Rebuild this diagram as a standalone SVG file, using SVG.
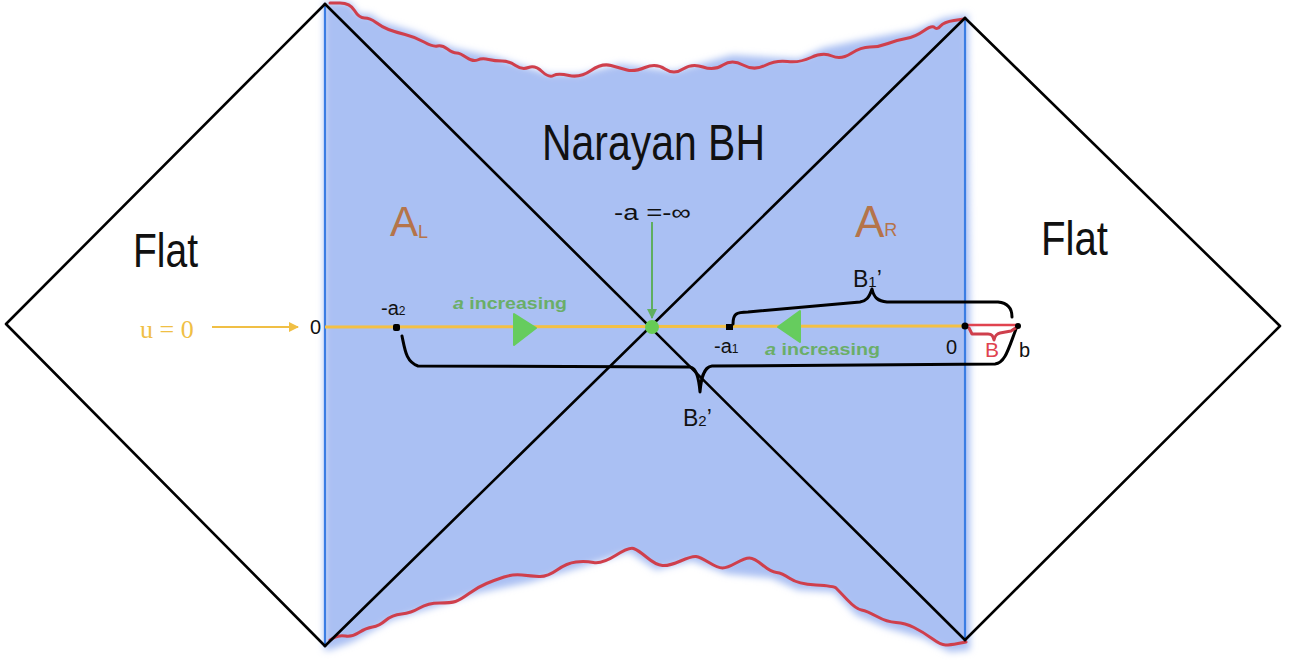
<svg xmlns="http://www.w3.org/2000/svg" width="1295" height="664" viewBox="0 0 1295 664">
<style>
.blk{stroke:#000;stroke-width:2.6;fill:none;stroke-linecap:round;stroke-linejoin:round}
.brace{stroke:#000;stroke-width:3;fill:none;stroke-linecap:round;stroke-linejoin:round}
.red{stroke:#cf3f4c;stroke-width:3;fill:none;stroke-linecap:round;stroke-linejoin:round}
.bl{stroke:#3b7de3;stroke-width:2.2}
.hand{font-family:"Liberation Sans","DejaVu Sans",sans-serif;fill:#111}
.lab{font-family:"Liberation Sans",Arial,sans-serif;fill:#111}
.brown{font-family:"Liberation Sans",Arial,sans-serif;fill:#b5744a}
.grn{font-family:"Liberation Sans",Arial,sans-serif;fill:#6aae68;font-weight:bold}
</style>
<defs>
<filter id="blur" x="-5%" y="-5%" width="110%" height="110%"><feGaussianBlur stdDeviation="3.5"/></filter>
<marker id="ya" viewBox="0 0 10 10" refX="9" refY="5" markerWidth="5" markerHeight="5" orient="auto"><path d="M0,0 L10,5 L0,10 z" fill="#f0bf45"/></marker>
<marker id="ga" viewBox="0 0 10 10" refX="9" refY="5" markerWidth="5" markerHeight="5" orient="auto"><path d="M0,0 L10,5 L0,10 z" fill="#5fae5f"/></marker>
</defs>
<rect width="1295" height="664" fill="#fff"/>
<g id="bulk">
<path filter="url(#blur)" fill="#aac0f3" d="M324,2 L350,2 L359,14 L370,14 L382,22 L415,32 L453,48 L495,57 L549,74 L580,74 L620,64 L674,71 L732,55 L799,59 L823,48 L861,40 L915,30 L944,18 L968,14 L970,300 L970,650 L950,652 L923,638 L887,628 L856,615 L834,592 L798,590 L771,578 L727,574 L692,561 L656,570 L629,552 L585,566 L531,582 L478,593 L428,609 L392,620 L352,642 L330,650 L324,650 Z"/>
</g>
<g id="connectors">
<line class="bl" x1="325" y1="4" x2="325" y2="646"/>
<line class="bl" x1="965" y1="18" x2="965" y2="640"/>
<path class="red" d="M330,3 L340,3 Q350,3 354.5,10.5 Q359,18 364.5,18 Q370,18 376,22.5 Q382,27 388.5,29.5 Q395,32 405,34.5 Q415,37 424,42 Q433,47 437.5,46 Q442,45 447.5,49 Q453,53 456.5,53 Q460,53 466.5,57.5 Q473,62 477.5,60 Q482,58 488.5,59.5 Q495,61 502,61 Q509,61 515.5,65.5 Q522,70 528.5,67.5 Q535,65 542,71.5 Q549,78 553.5,75.5 Q558,73 569,75.5 Q580,78 591,70.5 Q602,63 611,65.5 Q620,68 627,70 Q634,72 645,67.5 Q656,63 665,69 Q674,75 683,69 Q692,63 703,67 Q714,71 723,65 Q732,59 743,65 Q754,71 765,65.5 Q776,60 787.5,61.5 Q799,63 811,57.5 Q823,52 832,56 Q841,60 851,53.5 Q861,47 870,47 Q879,47 888,43.5 Q897,40 906,38.5 Q915,37 923.5,31 Q932,25 934.5,27.5 Q937,30 940.5,26 Q944,22 954,20.5 L964,19"/>
<path class="red" d="M330,640 L334.5,637.5 Q339,635 345.5,636 Q352,637 359,632.5 Q366,628 372.5,627 Q379,626 385.5,620.5 Q392,615 401.5,614 Q411,613 419.5,608 Q428,603 439.5,603 Q451,603 455.5,601.5 Q460,600 469,593.5 Q478,587 486.5,583.5 Q495,580 504,577 Q513,574 522,575 Q531,576 539,576.5 Q547,577 557,570 Q567,563 576,562 Q585,561 593.5,562.5 Q602,564 615.5,555.5 Q629,547 633.5,548.5 Q638,550 647,557.5 Q656,565 662.5,565.5 Q669,566 680.5,561 Q692,556 696,556.5 Q700,557 709,562.5 Q718,568 722.5,568 Q727,568 736,563 Q745,558 749.5,558 Q754,558 762.5,565 Q771,572 776.5,572.5 Q782,573 790,578.5 Q798,584 816,585 Q834,586 836,588 Q838,590 847,599.5 Q856,609 861.5,610 Q867,611 877,616.5 Q887,622 896,622.5 Q905,623 914,627.5 Q923,632 932,638.5 Q941,645 945.5,645 Q950,645 958,643.5 L966,642"/>
<path class="blk" d="M325,4 L6,324 L325,646"/>
<path class="blk" d="M325,4 L965,640"/>
<path class="blk" d="M325,646 L965,18"/>
<path class="blk" d="M965,18 L1280,326 L965,640"/>
<line x1="325" y1="327" x2="965" y2="326" stroke="#f3c044" stroke-width="3"/>
<line x1="212" y1="327" x2="298" y2="327" stroke="#f0bf45" stroke-width="2" marker-end="url(#ya)"/>
<line x1="652" y1="222" x2="652" y2="318" stroke="#5fae5f" stroke-width="2" marker-end="url(#ga)"/>
<path class="brace" d="M402,336 C405,350 406,362 418,366 L690,367 C697,368 699,380 700,392 C701,380 703,367 712,366 L995,364 C1005,363 1008,350 1016,329"/>
<path class="brace" d="M733,324 C733,314 736,312 748,312 L860,302 C866,301 869,298 872,289 C874,298 878,301 887,302 L998,302 C1008,303 1012,308 1012,317"/>
<line x1="967" y1="325" x2="1018" y2="325" stroke="#e0434f" stroke-width="2.5"/>
<path class="red" stroke-width="2.2" d="M969,328 L972,334 L988,334 C992,334 993,336 994,340 C995,336 996,334 1000,333 L1011,331 L1017,327"/>
<polygon points="514,314 514,345 536,328" fill="#66cc5e" stroke="#66cc5e" stroke-width="2" stroke-linejoin="round"/>
<polygon points="800,311 800,342 778,327" fill="#66cc5e" stroke="#66cc5e" stroke-width="2" stroke-linejoin="round"/>
<circle cx="652" cy="327" r="7" fill="#66cc55"/>
<rect x="393" y="324" width="7" height="7" rx="2" fill="#000"/>
<rect x="726" y="324" width="7" height="6" fill="#000"/>
<circle cx="965" cy="326" r="3.5" fill="#000"/>
<circle cx="1018" cy="326" r="3" fill="#000"/>
</g>
<g id="title"><text class="hand" x="542" y="160" font-size="50" textLength="223" lengthAdjust="spacingAndGlyphs">Narayan BH</text></g>
<g id="flat-left"><text class="hand" x="133" y="267" font-size="48" textLength="65" lengthAdjust="spacingAndGlyphs">Flat</text></g>
<g id="flat-right"><text class="hand" x="1041" y="255" font-size="48" textLength="67" lengthAdjust="spacingAndGlyphs">Flat</text></g>
<g id="AL"><text class="brown" x="390" y="236" font-size="42">A<tspan font-size="18" dy="2">L</tspan></text></g>
<g id="AR"><text class="brown" x="855" y="237" font-size="44">A<tspan font-size="18" dy="-1">R</tspan></text></g>
<g id="u0"><text x="140" y="338" font-family="'Liberation Serif','Times New Roman',serif" font-size="26" fill="#f0bf45">u = 0</text></g>
<g id="labels">
<text class="lab" x="310" y="334" font-size="20">0</text>
<text class="lab" x="381" y="315" font-size="20">-a<tspan font-size="12">2</tspan></text>
<text class="lab" x="714" y="353" font-size="20">-a<tspan font-size="12">1</tspan></text>
<text class="lab" x="946" y="354" font-size="20">0</text>
<text class="lab" x="1019" y="357" font-size="20">b</text>
<text x="985" y="357" font-family="'Liberation Sans',Arial,sans-serif" font-size="21" fill="#e0434f">B</text>
<text class="lab" x="614" y="220" font-size="22" textLength="77" lengthAdjust="spacingAndGlyphs">-a =-∞</text>
<text class="lab" x="853" y="287" font-size="23">B<tspan font-size="15">1</tspan>’</text>
<text class="lab" x="683" y="426" font-size="23">B<tspan font-size="15">2</tspan>’</text>
<text class="grn" x="453" y="309" font-size="17" textLength="114" lengthAdjust="spacingAndGlyphs"><tspan font-style="italic">a</tspan> increasing</text>
<text class="grn" x="765" y="355" font-size="17" textLength="115" lengthAdjust="spacingAndGlyphs"><tspan font-style="italic">a</tspan> increasing</text>
</g>
</svg>
